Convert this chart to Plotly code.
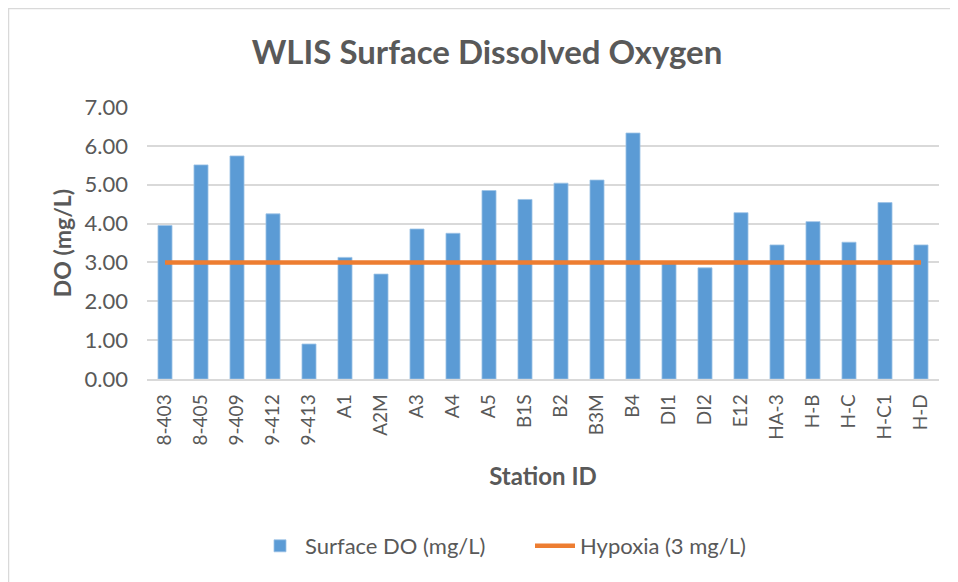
import plotly.graph_objects as go

stations = ["8-403", "8-405", "9-409", "9-412", "9-413", "A1", "A2M", "A3", "A4", "A5",
            "B1S", "B2", "B3M", "B4", "DI1", "DI2", "E12", "HA-3", "H-B", "H-C", "H-C1", "H-D"]
surface_do = [3.95, 5.51, 5.74, 4.25, 0.90, 3.13, 2.70, 3.86, 3.75, 4.85,
              4.62, 5.04, 5.12, 6.33, 2.97, 2.86, 4.28, 3.45, 4.05, 3.52, 4.54, 3.45]
hypoxia = [3.0] * len(stations)
y_ticks = [0, 1, 2, 3, 4, 5, 6, 7]
y_tick_labels = ["0.00", "1.00", "2.00", "3.00", "4.00", "5.00", "6.00", "7.00"]

FONT = "Lato"
TXT = "#595959"

fig = go.Figure()
fig.add_trace(go.Bar(
    x=stations, y=surface_do, name="Surface DO (mg/L)",
    marker=dict(color="#5B9BD5", line=dict(width=0.8, color="#9DC3E6")),
))
fig.add_trace(go.Scatter(
    x=stations, y=hypoxia, name="Hypoxia (3 mg/L)", mode="lines",
    line=dict(color="#ED7D31", width=4.5),
))

# page has an 8px body margin: figure coordinates = screen - 8
W, H = 950, 574
L, R, T, B = 139, 931, 99, 371
ph = B - T
pw = R - L

fig.update_layout(
    width=W, height=H,
    margin=dict(l=L, r=W - R, t=T, b=H - B),
    paper_bgcolor="white", plot_bgcolor="white",
    font=dict(family=FONT, color=TXT, size=18),
    bargap=0.61,
    title=dict(text="<b>WLIS Surface Dissolved Oxygen</b>", x=479 / W, xanchor="center",
               y=1 - 44 / H, yanchor="middle", font=dict(size=33, color=TXT, family=FONT)),
    xaxis=dict(
        type="category", tickangle=-90, showgrid=False, showline=True,
        linecolor="#D9D9D9", linewidth=1.5, ticks="", tickfont=dict(size=19, color=TXT),
        ticklabelstandoff=6,
        title=dict(text="<b>Station ID</b>", font=dict(size=24, color=TXT), standoff=24),
    ),
    yaxis=dict(
        range=[0, 7], tickvals=y_ticks, ticktext=y_tick_labels, showgrid=True,
        gridcolor="#D9D9D9", gridwidth=1.5, zeroline=False, ticks="", ticklen=0,
        tickfont=dict(size=22, color=TXT), ticklabelstandoff=18,
        title=dict(text="<b>DO (mg/L)</b>", font=dict(size=23, color=TXT), standoff=6),
    ),
    legend=dict(orientation="h", xref="container", yref="container",
                x=522 / W, xanchor="center", y=1 - 538 / H, yanchor="middle",
                font=dict(size=22, color=TXT), itemwidth=40, traceorder="normal",
                entrywidth=220, entrywidthmode="pixels"),
    shapes=[dict(type="rect", xref="paper", yref="paper",
                 x0=(0.5 - L) / pw, x1=(W + 20 - L) / pw,
                 y0=(B - H - 20) / ph, y1=(B - 0.5) / ph,
                 line=dict(color="#D9D9D9", width=1.5), fillcolor="rgba(0,0,0,0)", layer="below")],
)

fig.write_html("out.html")
